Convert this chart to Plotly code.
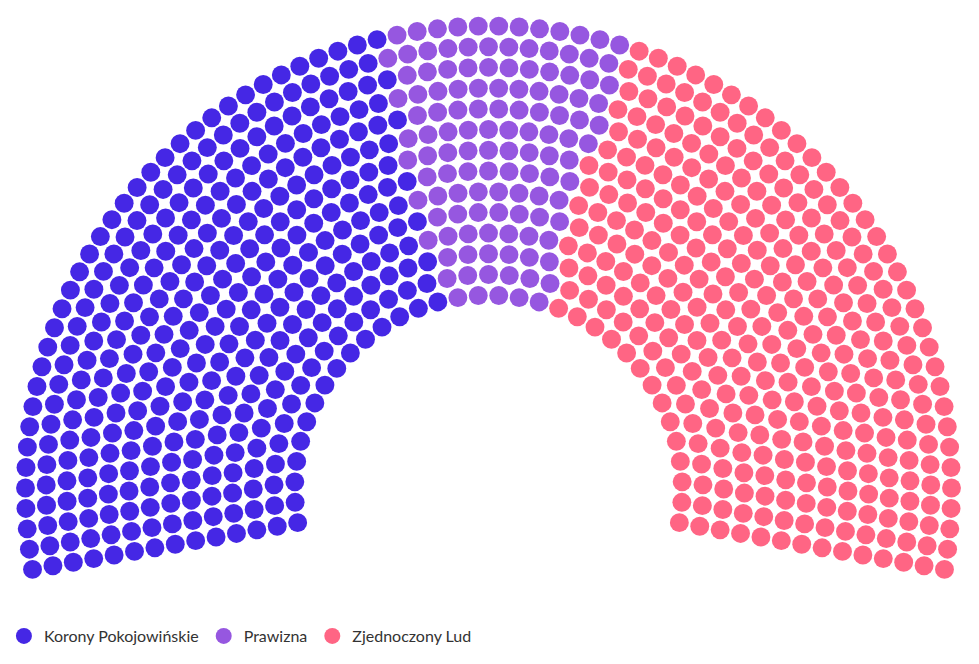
import math
import plotly.graph_objects as go

# ---- data ----
parties = ["Korony Pokojowińskie", "Prawizna", "Zjednoczony Lud"]
seats = [346, 122, 332]
colors = ["#4527E5", "#9657E0", "#FF6584"]

# ---- layout (item-chart style parliament arc) ----
W, H = 979, 664
center_x, center_y = 488.5, 489.0
diameter, inner_size = 946.0, 346.2
start_deg, end_deg = -100, 100
item_padding = 0.1


def get_slots(total):
    start = math.radians(start_deg - 90)
    full = math.radians(end_deg - start_deg)
    row_fraction = (diameter - inner_size) / diameter
    item_size = 0
    item_count = float("inf")
    final_count = None
    rows = None
    test_rows = None
    while item_count > total:
        final_count = item_count
        item_count = 0
        rows = test_rows
        test_rows = []
        item_size += 1
        row_count = math.floor(diameter / item_size / 2 * row_fraction)
        for row in range(row_count, 0, -1):
            rr = (inner_size + row / row_count * (diameter - inner_size - item_size)) / 2
            rl = full * rr
            cc = math.ceil(rl / item_size)
            test_rows.append({"r": rr, "len": rl, "cols": cc})
            item_count += cc + 1
    overshoot = final_count - total
    while overshoot > 0:
        order = sorted(rows, key=lambda rw: -(rw["cols"] / rw["len"]))
        for rw in order[:min(overshoot, math.ceil(len(rows) / 2))]:
            if overshoot > 0:
                rw["cols"] -= 1
                overshoot -= 1
    slots = []
    for rw in rows:
        inc = full / rw["cols"] if rw["cols"] else 0
        for c in range(rw["cols"] + 1):
            a = start + c * inc
            slots.append((a, center_x + math.cos(a) * rw["r"], center_y + math.sin(a) * rw["r"]))
    slots.sort(key=lambda t: t[0])
    return slots, item_size


slots, item_size = get_slots(sum(seats))
marker_d = item_size * (1 - item_padding)

fig = go.Figure()
pos = 0
for name, n, col in zip(parties, seats, colors):
    part = slots[pos:pos + n]
    pos += n
    fig.add_trace(go.Scatter(
        x=[p[1] for p in part], y=[p[2] for p in part], mode="markers", name=name,
        marker=dict(size=marker_d, color=col, line=dict(width=0)),
        hovertemplate=name + "<extra></extra>",
    ))

fig.update_layout(
    width=W, height=H, margin=dict(l=0, r=0, t=0, b=0),
    paper_bgcolor="white", plot_bgcolor="white",
    xaxis=dict(range=[0, W], visible=False, fixedrange=True),
    yaxis=dict(range=[H, 0], visible=False, fixedrange=True),
    showlegend=True,
    legend=dict(orientation="h", x=0.004, xanchor="left", y=1 - 636 / H, yanchor="middle",
                font=dict(family="Lato, 'Open Sans', sans-serif", size=16, color="#333333"),
                itemsizing="trace", itemwidth=30, tracegroupgap=0),
)
fig.write_html("out.html")
